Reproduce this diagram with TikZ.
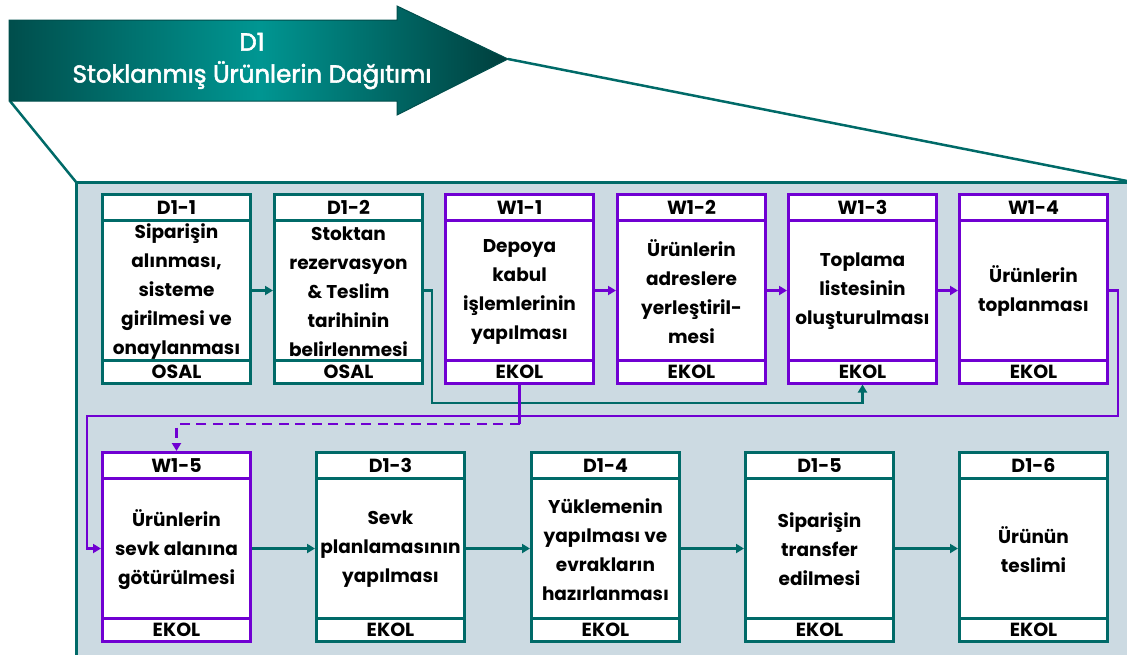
\documentclass[tikz,border=0pt]{standalone}
\usepackage{fontspec}
\setmainfont{Poppins}
\newfontfamily\banfont[FakeBold=2.2]{Poppins}
\usetikzlibrary{arrows.meta}
\definecolor{tealc}{RGB}{0,106,104}
\definecolor{purp}{RGB}{112,0,210}
\definecolor{panelc}{RGB}{204,218,226}
\definecolor{bandark}{RGB}{0,78,76}
\definecolor{banlight}{RGB}{0,150,146}
\tikzset{
  cell/.style={draw, fill=white, line width=3pt, minimum width=148pt, inner sep=0pt, outer sep=1.5pt},
  hdtxt/.style={font=\bfseries\fontsize{19}{20}\selectfont},
  bodytxt/.style={font=\bfseries\fontsize{18.5}{29}\selectfont, align=center, inner sep=0pt},
  tip/.style={-{Triangle[length=8pt,width=9pt]}},
  tline/.style={draw=tealc, line width=2.6pt},
  pline/.style={draw=purp, line width=2.6pt},
}
\newcommand{\pbox}[7]{%
  \node[cell, draw=#4, minimum height=140pt] (b#1) at (#2,290.5+#3) {};
  \node[bodytxt] (x#1) at (#2,291.5+#3) {#6};
  \node[cell, hdtxt, draw=#4, minimum height=22.5pt] (f#1) at (#2,371.75+#3) {#7};
  \node[cell, hdtxt, draw=#4, minimum height=26pt] (t#1) at (#2,207.5+#3) {#5};
}
\begin{document}
\begin{tikzpicture}[x=1pt,y=-1pt]
\useasboundingbox (0,0) rectangle (1127,654);
\clip (0,0) rectangle (1127,654);
% panel
\path[fill=panelc, draw=tealc, line width=3pt] (76,182) -- (1145,182) -- (1145,670) -- (76,670) -- cycle;
% funnel lines
\draw[tealc, line width=2.5pt] (10,101) -- (76,182);
\draw[tealc, line width=2.5pt] (508,59) -- (1127,181);
% banner
\path[left color=bandark, right color=bandark!80!black, middle color=banlight, draw=bandark, line width=1pt]
  (9,20) -- (397,20) -- (397,6) -- (508,59) -- (397,115) -- (397,101) -- (9,101) -- cycle;
\node[text=white, align=center, font=\banfont\fontsize{24.5}{32}\selectfont, inner sep=0pt] (ban) at (252,61)
  {D1\\Stoklanmış Ürünlerin Dağıtımı};
% row 1
\pbox{11}{176.5}{0}{tealc}{D1-1}{Siparişin\\alınması,\\sisteme\\girilmesi ve\\onaylanması}{OSAL}
\pbox{12}{348.5}{0}{tealc}{D1-2}{Stoktan\\rezervasyon\\\& Teslim\\tarihinin\\belirlenmesi}{OSAL}
\pbox{21}{519.5}{0}{purp}{W1-1}{Depoya\\kabul\\işlemlerinin\\yapılması}{EKOL}
\pbox{22}{691.5}{0}{purp}{W1-2}{Ürünlerin\\adreslere\\yerleştiril-\\mesi}{EKOL}
\pbox{23}{862.5}{0}{purp}{W1-3}{Toplama\\listesinin\\oluşturulması}{EKOL}
\pbox{24}{1033.5}{0}{purp}{W1-4}{Ürünlerin\\toplanması}{EKOL}
% row 2
\pbox{31}{176.5}{258}{purp}{W1-5}{Ürünlerin\\sevk alanına\\götürülmesi}{EKOL}
\pbox{32}{390.5}{258}{tealc}{D1-3}{Sevk\\planlamasının\\yapılması}{EKOL}
\pbox{33}{605.5}{258}{tealc}{D1-4}{Yüklemenin\\yapılması ve\\evrakların\\hazırlanması}{EKOL}
\pbox{34}{819.5}{258}{tealc}{D1-5}{Siparişin\\transfer\\edilmesi}{EKOL}
\pbox{35}{1033.5}{258}{tealc}{D1-6}{Ürünün\\teslimi}{EKOL}
% connectors row 1
\draw[tline, tip] (b11.east) -- (b12.west);
\draw[pline, tip] (b21.east) -- (b22.west);
\draw[pline, tip] (b22.east) -- (b23.west);
\draw[pline, tip] (b23.east) -- (b24.west);
% teal loop D1-2 -> W1-3
\coordinate (c1) at (432,403);
\draw[tline, tip] (b12.east) -| (c1) -| (f23.south);
% purple loop W1-4 -> W1-5
\coordinate (c2) at (1118,416);
\coordinate (c3) at (87,416);
\draw[pline, tip] (b24.east) -| (c2) -- (c3) |- (b31.west);
% dashed W1-1 -> W1-5
\coordinate (c4) at (519.5,424);
\draw[pline] (f21.south) -- (c4);
\draw[pline, tip, dash pattern=on 10pt off 6.5pt] (c4) -| (t31.north);
% connectors row 2
\draw[tline, tip] (b31.east) -- (b32.west);
\draw[tline, tip] (b32.east) -- (b33.west);
\draw[tline, tip] (b33.east) -- (b34.west);
\draw[tline, tip] (b34.east) -- (b35.west);
\end{tikzpicture}
\end{document}
